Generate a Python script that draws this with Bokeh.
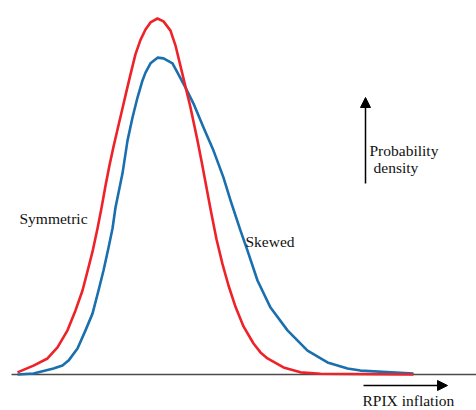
from bokeh.plotting import figure
from bokeh.models import Range1d, Label, Arrow, NormalHead
from bokeh.embed import file_html
from bokeh.resources import INLINE

# inflation (arbitrary units) and probability density
x_sym = [17, 33, 47, 57, 67, 75, 82, 87, 92, 97, 101, 105, 109, 113, 118, 122, 126,
         130, 135, 140, 145, 150, 157, 163, 170, 175, 182, 190, 197, 201, 205, 210,
         216, 222, 228, 235, 243, 253, 260, 267, 283, 300, 320, 413]
d_sym = [0.006, 0.025, 0.045, 0.076, 0.124, 0.180, 0.236, 0.290, 0.345, 0.410,
         0.468, 0.530, 0.588, 0.640, 0.700, 0.748, 0.796, 0.843, 0.900, 0.940,
         0.969, 0.989, 1.000, 0.992, 0.966, 0.924, 0.843, 0.750, 0.657, 0.600,
         0.540, 0.465, 0.380, 0.310, 0.250, 0.190, 0.135, 0.087, 0.062, 0.045,
         0.020, 0.006, 0.002, 0.0]

x_skew = [17, 33, 53, 62, 68, 77, 85, 92, 98, 103, 108, 112, 115, 122, 127, 132,
          137, 142, 145, 150, 157, 163, 172, 177, 185, 193, 203, 213, 223, 230,
          240, 247, 257, 270, 287, 307, 327, 347, 360, 413]
d_skew = [0.0, 0.003, 0.017, 0.025, 0.039, 0.073, 0.124, 0.171, 0.236, 0.292,
          0.356, 0.410, 0.469, 0.565, 0.657, 0.722, 0.778, 0.826, 0.848, 0.874,
          0.890, 0.888, 0.874, 0.848, 0.806, 0.761, 0.694, 0.629, 0.553, 0.489,
          0.404, 0.348, 0.264, 0.188, 0.124, 0.067, 0.034, 0.017, 0.011, 0.003]

labels = ["Symmetric", "Skewed", "Probability", "density", "RPIX inflation"]

BASE = 374.0
SCALE = 356.0


def dy(py):
    # picture row -> density units
    return (BASE - py) / SCALE


p = figure(width=476, height=410, output_backend="svg", toolbar_location=None,
           x_range=Range1d(0, 476), y_range=Range1d(dy(410), dy(0)),
           min_border=0)
p.axis.visible = False
p.grid.visible = False
p.outline_line_color = None
p.background_fill_color = "white"
p.border_fill_color = "white"

# baseline
p.line([11, 476], [0, 0], line_color="#4a4a4a", line_width=1.6)

p.line(x_skew, d_skew, line_color="#1a6fae", line_width=2.6, line_join="round")
p.line(x_sym, d_sym, line_color="#ee2229", line_width=2.6, line_join="round")

font = "Liberation Serif"
fs = "15.5px"


def lab(txt, x, py):
    p.add_layout(Label(x=x, y=dy(py), text=txt, text_font=font, text_font_size=fs,
                       text_color="#111111", text_baseline="alphabetic"))


lab(labels[0], 19, 218)
lab(labels[1], 245, 241)
lab(labels[2], 369, 150)
lab(labels[3], 373, 167)
lab(labels[4], 362, 400)

p.add_layout(Arrow(end=NormalHead(size=10, fill_color="black", line_color="black"),
                   x_start=365, y_start=dy(183), x_end=365, y_end=dy(97),
                   line_color="black", line_width=1.5))
p.add_layout(Arrow(end=NormalHead(size=10, fill_color="black", line_color="black"),
                   x_start=363, y_start=dy(385), x_end=447, y_end=dy(385),
                   line_color="black", line_width=1.5))

open("out.html", "w").write(file_html(p, INLINE))
